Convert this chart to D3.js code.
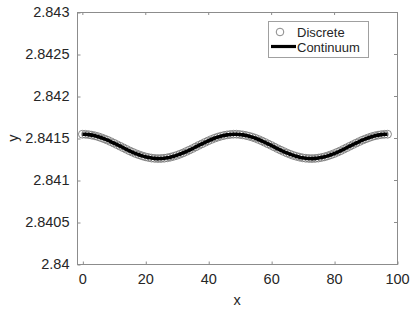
<!DOCTYPE html>
<html><head><meta charset="utf-8">
<script src="https://cdn.jsdelivr.net/npm/d3@7"></script>
<style>
html,body{margin:0;padding:0;background:#fff;}
text{font-family:"Liberation Sans",Arial,Helvetica,sans-serif;fill:#262626;}
</style></head><body>
<svg id="c" width="415" height="312"></svg>
<script>
// x positions of the samples
const xValues = d3.range(0, 98); // 0 .. 97
// y values (first half, 0..48; the curve is symmetric about x = 48.5)
const yFirstHalf = [
 2.841545,2.841544,2.841540,2.841534,2.841526,2.841516,2.841503,2.841489,2.841474,2.841457,
 2.841439,2.841421,2.841402,2.841384,2.841365,2.841347,2.841330,2.841314,2.841300,2.841287,
 2.841276,2.841268,2.841261,2.841257,2.841255,2.841256,2.841259,2.841264,2.841272,2.841282,
 2.841293,2.841307,2.841322,2.841339,2.841356,2.841374,2.841393,2.841412,2.841430,2.841448,
 2.841466,2.841482,2.841497,2.841510,2.841521,2.841530,2.841537,2.841542,2.841545
];
const yValues = yFirstHalf.concat(yFirstHalf.slice().reverse());
const xTicks = [0, 20, 40, 60, 80, 100];
const yTicks = [2.84, 2.8405, 2.841, 2.8415, 2.842, 2.8425, 2.843];
const yTickLabels = ["2.84","2.8405","2.841","2.8415","2.842","2.8425","2.843"];
const legendLabels = ["Discrete", "Continuum"];

const data = xValues.map((x, i) => ({x, y: yValues[i]}));
const svg = d3.select("#c");
const L = 77, R = 397, T = 12, B = 264;
const x = d3.scaleLinear().domain([-1.7, 100]).range([L, R]);
const y = d3.scaleLinear().domain([2.84, 2.843]).range([B, T]);

// box
const axisColor = "#8c8c8c";
svg.append("rect").attr("x", L + 0.5).attr("y", T + 0.5).attr("width", R - L).attr("height", B - T)
  .attr("fill", "none").attr("stroke", axisColor).attr("stroke-width", 1);

// x axis
const xa = svg.append("g").attr("transform", `translate(0,${B + 0.5})`)
  .call(d3.axisBottom(x).tickValues(xTicks).tickSizeInner(-3).tickSizeOuter(0).tickPadding(9));
xa.select(".domain").remove();
xa.selectAll("line").attr("stroke", axisColor).attr("transform", "translate(0.5,0)");
xa.selectAll("text").style("font-size", "14.5px").attr("fill", "#262626");
// top ticks
svg.append("g").selectAll("line").data(xTicks).join("line")
  .attr("x1", d => x(d) + 0.5).attr("x2", d => x(d) + 0.5).attr("y1", T).attr("y2", T + 3)
  .attr("stroke", axisColor);

// y axis
const ya = svg.append("g").attr("transform", `translate(${L + 0.5},0)`)
  .call(d3.axisLeft(y).tickValues(yTicks).tickFormat((d, i) => yTickLabels[i]).tickSizeInner(-3).tickSizeOuter(0).tickPadding(8));
ya.select(".domain").remove();
ya.selectAll("line").attr("stroke", axisColor).attr("transform", "translate(0,0.5)");
ya.selectAll("text").style("font-size", "14.5px").attr("fill", "#262626");
svg.append("g").selectAll("line").data(yTicks).join("line")
  .attr("x1", R - 3).attr("x2", R).attr("y1", d => y(d) + 0.5).attr("y2", d => y(d) + 0.5)
  .attr("stroke", axisColor);

// labels
svg.append("text").attr("x", (L + R) / 2).attr("y", 305).attr("text-anchor", "middle")
  .style("font-size", "14.5px").text("x");
svg.append("text").attr("transform", `translate(18,${(T + B) / 2}) rotate(-90)`).attr("text-anchor", "middle")
  .style("font-size", "14.5px").text("y");

// discrete markers
svg.append("g").selectAll("circle").data(data).join("circle")
  .attr("cx", d => x(d.x)).attr("cy", d => y(d.y)).attr("r", 3.9)
  .attr("fill", "none").attr("stroke", "#7a7a7a").attr("stroke-width", 0.9);

// continuum line
svg.append("path").datum(data)
  .attr("d", d3.line().x(d => x(d.x)).y(d => y(d.y)).curve(d3.curveMonotoneX))
  .attr("fill", "none").attr("stroke", "#000").attr("stroke-width", 3.6);

// legend
const lg = svg.append("g");
lg.append("rect").attr("x", 268.5).attr("y", 21.5).attr("width", 100).attr("height", 36)
  .attr("fill", "#fff").attr("stroke", "#a0a0a0").attr("stroke-width", 1);
lg.append("circle").attr("cx", 280).attr("cy", 32).attr("r", 3.8)
  .attr("fill", "none").attr("stroke", "#7a7a7a").attr("stroke-width", 0.9);
lg.append("line").attr("x1", 271).attr("x2", 296).attr("y1", 46.5).attr("y2", 46.5)
  .attr("stroke", "#000").attr("stroke-width", 3.2);
lg.append("text").attr("x", 297).attr("y", 37).style("font-size", "13px").text(legendLabels[0]);
lg.append("text").attr("x", 297).attr("y", 51.5).style("font-size", "13px").text(legendLabels[1]);
</script></body></html>
